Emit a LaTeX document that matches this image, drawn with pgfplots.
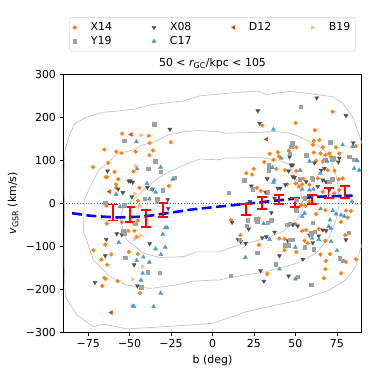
\documentclass[border=0pt,11pt]{standalone}
\usepackage{fontspec}
\setmainfont{DejaVu Sans}
\usepackage{pgfplots}
\pgfplotsset{compat=1.18}

\definecolor{cX}{RGB}{255,127,14}
\definecolor{cY}{RGB}{160,160,160}
\definecolor{cXo}{RGB}{80,80,80}
\definecolor{cC}{RGB}{80,150,215}
\definecolor{cD}{RGB}{205,75,10}
\definecolor{cB}{RGB}{253,187,132}
\definecolor{ccont}{RGB}{195,195,195}

\begin{document}
\begin{tikzpicture}
\begin{axis}[
  scale only axis,
  width=298.4pt, height=258pt,
  xmin=-90, xmax=90, ymin=-300, ymax=300,
  xtick={-75,-50,-25,0,25,50,75},
  xticklabels={−75,−50,−25,0,25,50,75},
  ytick={-300,-200,-100,0,100,200,300},
  yticklabels={−300,−200,−100,0,100,200,300},
  tick align=outside, tick pos=left,
  major tick length=3.5pt,
  every tick/.style={black, line width=0.6pt},
  axis line style={line width=0.6pt},
  xlabel={b (deg)},
  ylabel={{\itshape v}\textsubscript{GSR} (km/s)},
  title={50 < {\itshape r}\textsubscript{GC}/kpc < 105},
  title style={yshift=-4pt},
  legend columns=4,
  legend style={at={(0.5,1)}, anchor=south, yshift=23pt,
    draw=black!20, rounded corners=2pt, inner sep=3pt,
    /tikz/every odd column/.append style={column sep=12pt},
    /tikz/every even column/.append style={column sep=38pt}},
]
% contours
\addplot[ccont, line width=0.7pt, forget plot] coordinates {
(93,100) (89.5,147) (87.5,170) (84.5,201) (78.5,233) (72.5,248) (52.5,258) (46.5,260) (32.5,253) (27.4,261) (12.4,257) (-7.6,250) (-17.7,238) (-37.7,229) (-45.7,220) (-55.7,215) (-65.7,212) (-75.7,201) (-82.8,186) (-85.8,163) (-89,124) (-89.5,60) (-89.3,0) (-89.4,-147) (-88.8,-217) (-81.7,-260) (-71.8,-287) (-65.7,-281) (-51.7,-292) (-37.7,-289) (-21.6,-285) (-13.6,-283) (0.4,-279) (20.4,-252) (34.4,-240) (52.5,-225) (70.5,-202) (80.5,-178) (86.5,-147) (88.5,-116) (93,-60)};
\addplot[ccont, line width=0.7pt, forget plot] coordinates {
(4.4,166) (-7.6,169) (-13.6,168) (-17.7,166) (-27.6,158) (-33.7,145) (-41.7,136) (-47.7,124) (-57.7,115) (-62.7,95) (-68.8,77) (-73.7,39) (-77.3,8) (-77.8,-65) (-71.8,-132) (-61.7,-171) (-51.7,-190) (-37.7,-198) (-21.6,-190) (-11.6,-181) (4.4,-178) (12.4,-171) (32.5,-159) (50.5,-140) (62.5,-116) (70.5,-78) (74.5,-39) (76.5,0) (75.5,50) (73.5,80) (71,105) (66.5,128) (60,140) (52.5,155) (46.5,163) (37.4,167) (27.4,165) (17.4,164) (7.5,163) (4.4,166)};
\addplot[ccont, line width=0.7pt, forget plot] coordinates {
(4.4,101) (-7.6,103) (-13.6,95) (-19.7,85) (-31.7,62) (-41.7,31) (-47,10) (-53.7,-8) (-55.7,-39) (-51.7,-85) (-41.7,-116) (-31.7,-126) (-17.7,-124) (-9.6,-113) (4.4,-113) (12.4,-101) (32.5,-81) (42.4,-66) (50.5,-39) (54.5,-16) (54.5,0) (52.5,39) (48.4,70) (46.5,90) (40.4,100) (27.4,107) (19.4,106) (7.4,105) (4.4,101)};
% zero line
\addplot[black!60, dotted, line width=0.8pt, forget plot] coordinates {(-90,0) (90,0)};
% X14
\addplot[only marks, mark=*, mark size=1.9pt, color=cX] coordinates {
(-54.5,162) (-38.5,157) (-25.2,142) (-65.3,125) (-58.1,120) (-54.9,117) (-46.5,120) (-37.9,140) (-35.9,123) (-38.1,112) (-62.9,94) (-72.1,84) (-59.1,73) (-47.7,74) (-64.4,61) (-63.6,61) (-56.9,56) (-58.3,44) (-58.1,36) (-44.1,36) (-26.4,40) (-45.1,6) (-64,-6)
(-63.7,-47) (-47.5,-47) (-50.9,-64) (-47.1,-64) (-45.7,-78) (-64.7,-96) (-71.8,-109) (-50.5,-113) (-61.1,-119) (-45.1,-118) (-67.1,-131) (-63.5,-143) (-65.3,-173) (-64.5,-176) (-57.3,-181) (-66.5,-192) (-43.7,-209) (-45,-40) (-54.7,-44)
(30,181) (34.4,115) (39.4,119) (40,109) (36.8,101) (31.2,96) (46,122) (24.8,80) (20.4,70) (38.5,80) (43.6,77) (23.8,67) (45,44) (26.8,36) (29.2,29)
(72.5,213) (50.1,187) (61.7,170) (61.1,145) (64.5,147) (66.5,130) (60.5,136) (50.5,130) (74.5,130) (76.5,116) (86.5,133) (61.1,118) (65.1,116) (68.1,112) (70.5,116) (71.5,108) (62.5,99) (66.5,97) (50.5,75) (73.5,76) (69.5,77) (54.9,57) (63.5,58) (76.1,56) (78.5,58) (50.1,46) (52.1,39) (58.5,43) (54.1,44) (76.5,31) (66.5,27) (73.5,23) (53.5,-4) (58.5,4)
(11,-39) (28,-35) (16.8,-74) (28,-97) (40.4,-82) (43.4,-109) (33,-164) (43.4,-83)
(56,-6) (62.5,-25) (68.1,-16) (80.5,-17) (83.5,-18) (81.5,-33) (77.5,-43) (50,-48) (56.5,-62) (54.1,-64) (64.1,-60) (80.1,-74) (55.5,-87) (57.5,-93) (68.1,-87) (50.5,-113) (65.1,-119) (70.9,-118) (68.5,-134) (80.5,-136) (86.5,-130) (68.1,-153) (77.5,-163) (67.1,-174)};
\addlegendentry{X14}
% X08
\addplot[only marks, mark=triangle*, mark size=2.3pt, mark options={rotate=180}, color=cXo] coordinates {
(-25.7,172) (-63.3,75) (-50.5,52) (-49.5,52) (-48.1,49) (-56.9,33) (-54.1,25) (-39.3,37) (-36.1,33) (-48.7,15) (-26.7,-12) (-27,9)
(-64.1,-84) (-57.7,-71) (-54.7,-73) (-37.9,-94) (-64.7,-122) (-47.3,-143) (-70.9,-184) (-45.3,-192)
(27.4,215) (28.4,186) (45.9,75) (33,57) (39.4,35) (40.9,35) (44,43) (23.4,40) (32,26) (22.6,4) (37.4,12) (48.4,89)
(62.9,245) (80.5,204) (84.9,141) (48.4,140) (76.5,105) (75.9,96) (46.5,108) (47.5,89) (61.5,94) (65.5,77) (67.5,81) (48.4,62) (49.5,60) (56.5,50) (66.5,54) (68.5,50) (63.5,39) (70.5,31)
(11.8,-44) (21.8,-60) (35.5,-22) (15.4,-84) (17,-89) (20,-93) (30,-80) (32.5,-78) (37.4,-67) (40.4,-122) (29,-157) (31,-181) (45.9,-169) (45.4,-87)
(48.4,-50) (51.4,-53) (66.5,-62) (68.5,-64) (58.5,-74) (60.5,-92) (64.1,-76) (80.5,-85) (54.5,-130)};
\addlegendentry{X08}
% D12
\addplot[only marks, mark=triangle*, mark size=2.3pt, mark options={rotate=90}, color=cD] coordinates {
(-49.1,160) (-62.1,27) (-61.1,-254) (32.6,149)};
\addlegendentry{D12}
% B19
\addplot[only marks, mark=triangle*, mark size=2.3pt, mark options={rotate=-90}, color=cB] coordinates {
(-43.1,158) (-46.3,87) (-46.9,22) (-44.1,-6) (-43.3,-75) (-47.1,-83) (-42.1,-147) (-48.3,-177) (-44.1,-8)};
\addlegendentry{B19}
% Y19
\addplot[only marks, mark=square*, mark size=1.7pt, color=cY] coordinates {
(-35.1,184) (-53.3,146) (-34.5,98) (-38.7,80) (-31.3,74) (-22.8,59) (-40.9,10) (-33.3,10) (-29.9,30) (-64.7,2) (-53.9,-64) (-53.1,-71) (-46.7,-48) (-52.7,-126) (-39.1,-160) (-31.9,-161) (-43.1,-195) (-33.7,4) (-53.3,-4)
(53.1,225) (46.5,116) (47.5,132) (48,140) (33.8,89) (34,77) (19.2,54) (24.2,33) (9.8,25) (33.4,26) (70.9,142) (68.1,101) (72.1,101) (73.1,105) (82.5,108) (85.5,101) (56.5,112) (52.5,56) (60.5,56) (59.7,60) (70.5,50) (72.1,56) (50.5,8) (55.5,12)
(21.4,-39) (20.8,-52) (33.4,-45) (35.5,-39) (26.4,-37) (27,-43) (16.4,-85) (27,-115) (38,-142) (11,-169) (45,-50) (46.5,-47) (43.4,-97) (46,-97) (46.5,-85)
(50.5,-16) (60.5,-45) (61.5,-66) (59.5,-70) (82.1,-68) (48.4,-84) (55.5,-102) (60.9,-107) (76.9,-128) (78.5,-134) (51.4,-171) (59.5,-190)};
\addlegendentry{Y19}
% C17
\addplot[only marks, mark=triangle*, mark size=2.3pt, color=cC] coordinates {
(-45.9,143) (-45.5,80) (-31.3,84) (-39.5,46) (-24,56) (-36.7,32) (-34.3,26) (-58.1,21) (-38.1,10) (-55.7,-8)
(-56.5,-91) (-30,-72) (-27.3,-57) (-28.5,-57) (-34.3,-106) (-28.5,-102) (-41.7,-125) (-31.1,-119) (-45.7,-133) (-38.1,-137) (-42.1,-163) (-43.1,-179) (-31.3,-209) (-48.1,-239) (-47.3,-240) (-35.5,-240)
(36.8,172) (41.5,105) (36.1,83) (37.3,54) (36.8,49) (78.5,136) (84.5,132) (87.3,99) (69.1,98) (58.5,98) (52.9,77) (65.1,70) (85.5,81) (88.5,77) (54.1,33) (58.5,31) (60.9,33) (84.1,4)
(30.8,-47) (34.4,-84) (19.8,-126) (40.4,-153)
(54.1,-30) (55.5,-23) (65.1,-13) (72.5,-17) (74.5,-25) (77.5,-27) (79.5,-30) (70.9,-39) (70.1,-54) (71.5,-58) (60.1,-81) (64.1,-84) (71.5,-89) (50,-102) (75.1,-110) (50,-176)};
\addlegendentry{C17}
% mean trend
\addplot[blue, line width=2.6pt, dash pattern=on 10pt off 4.5pt, forget plot] coordinates {
(-84.7,-23) (-73.7,-29) (-57.7,-33) (-41.7,-31) (-25.7,-22) (-11.6,-14) (0.4,-9) (18.4,-2) (42.4,8) (62.5,15) (84.5,18)};
% binned dispersion
\addplot[draw=none, mark=none, forget plot,
  error bars/.cd, y dir=both, y explicit,
  error bar style={red, line width=1.8pt},
  error mark options={red, rotate=90, mark size=5pt, line width=1.8pt}]
  coordinates {
(-60,-21.5) +- (0,18.5)
(-50,-26) +- (0,17)
(-40,-36) +- (0,20)
(-30,-15) +- (0,16)
(20,-14.5) +- (0,12.5)
(30,0.5) +- (0,14.5)
(40,8.5) +- (0,10.5)
(50,2.5) +- (0,10.5)
(60,8.5) +- (0,10.5)
(70,24) +- (0,11)
(80,26.5) +- (0,13.5)};
\end{axis}
\path (current axis.south west) ++(-63.3pt,-41.7pt) coordinate (bbA);
\path (current axis.north east) ++(12.3pt,74.3pt) coordinate (bbB);
\path (bbA) rectangle (bbB);
\end{tikzpicture}
\end{document}
